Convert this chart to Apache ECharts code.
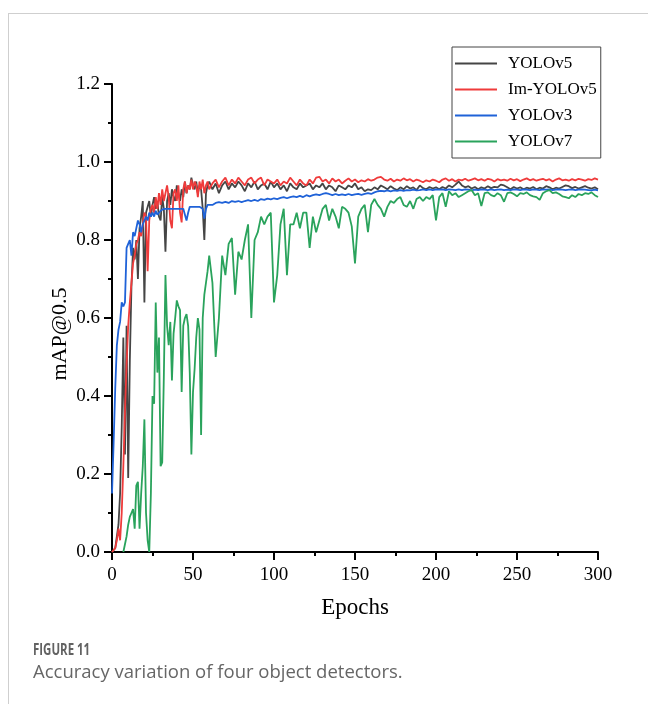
<!DOCTYPE html>
<html>
<head>
<meta charset="utf-8">
<script src="https://cdn.jsdelivr.net/npm/echarts@6/dist/echarts.min.js"></script>
<style>
html,body{margin:0;padding:0;background:#fff;width:648px;height:704px;overflow:hidden;}
#card{position:absolute;left:8px;top:13px;width:700px;height:720px;border-top:1px solid #cfcfcf;border-left:1px solid #cfcfcf;}
#chart{position:absolute;left:0;top:0;width:648px;height:704px;}
#cap1{position:absolute;left:33px;top:638px;font-family:"Open Sans",sans-serif;font-weight:700;font-size:15.5px;color:#626262;transform:scaleX(0.74);transform-origin:0 0;white-space:nowrap;}
#cap2{position:absolute;left:33px;top:658px;font-family:"Open Sans",sans-serif;font-size:18.5px;color:#666;white-space:nowrap;}
</style>
</head>
<body>
<div id="card"></div>
<div id="chart"></div>
<div id="cap1">FIGURE 11</div>
<div id="cap2">Accuracy variation of four object detectors.</div>
<script>
const seriesNames = ['YOLOv5', 'Im-YOLOv5', 'YOLOv3', 'YOLOv7'];
const xTicks = [0, 50, 100, 150, 200, 250, 300];
const yTicks = [0.0, 0.2, 0.4, 0.6, 0.8, 1.0, 1.2];

const epochs = [
  0,1,2,3,4,5,6,7,8,9,
  10,11,12,13,14,15,16,17,18,19,
  20,21,22,23,24,25,26,27,28,29,
  30,31,32,33,34,35,36,37,38,39,
  40,41,42,43,44,45,46,47,48,49,
  50,51,52,53,54,55,56,57,58,59,
  60,
  62,64,66,68,70,72,74,76,78,80,
  82,84,86,88,90,92,94,96,98,100,
  102,104,106,108,110,112,114,116,118,120,
  122,124,126,128,130,132,134,136,138,140,
  142,144,146,148,150,152,154,156,158,160,
  162,164,166,168,170,172,174,176,178,180,
  182,184,186,188,190,192,194,196,198,200,
  202,204,206,208,210,212,214,216,218,220,
  222,224,226,228,230,232,234,236,238,240,
  242,244,246,248,250,252,254,256,258,260,
  262,264,266,268,270,272,274,276,278,280,
  282,284,286,288,290,292,294,296,298,300
];

const yolov5 = [
  0, 0, 0.01, 0.04, 0.07, 0.15, 0.32, 0.55, 0.25, 0.58,
  0.19, 0.49, 0.68, 0.78, 0.75, 0.80, 0.70, 0.83, 0.86, 0.90,
  0.64, 0.87, 0.87, 0.90, 0.86, 0.89, 0.91, 0.88, 0.90, 0.86,
  0.85, 0.91, 0.88, 0.77, 0.90, 0.92, 0.89, 0.93, 0.91, 0.90,
  0.94, 0.92, 0.90, 0.93, 0.91, 0.95, 0.92, 0.94, 0.93, 0.96,
  0.94, 0.93, 0.95, 0.92, 0.94, 0.93, 0.88, 0.80, 0.92, 0.94,
  0.95,
  0.93, 0.945, 0.92, 0.94, 0.95, 0.93, 0.945, 0.935, 0.95, 0.94,
  0.925, 0.945, 0.935, 0.95, 0.93, 0.94, 0.945, 0.93, 0.95, 0.935,
  0.945, 0.93, 0.94, 0.925, 0.945, 0.935, 0.93, 0.945, 0.935, 0.94,
  0.945, 0.93, 0.94, 0.935, 0.945, 0.93, 0.94, 0.935, 0.925, 0.94,
  0.935, 0.93, 0.94, 0.935, 0.945, 0.93, 0.935, 0.925, 0.93, 0.928,
  0.935, 0.93, 0.94, 0.935, 0.93, 0.938, 0.932, 0.928, 0.935, 0.93,
  0.938, 0.932, 0.935, 0.928, 0.94, 0.933, 0.93, 0.936, 0.932, 0.935,
  0.93, 0.936, 0.932, 0.94, 0.935, 0.942, 0.95, 0.94, 0.935, 0.938,
  0.932, 0.936, 0.93, 0.935, 0.932, 0.938, 0.933, 0.936, 0.935, 0.942,
  0.94, 0.935, 0.93, 0.936, 0.932, 0.935, 0.93, 0.934, 0.932, 0.936,
  0.93, 0.934, 0.932, 0.938, 0.935, 0.93, 0.934, 0.932, 0.936, 0.94,
  0.938, 0.933, 0.936, 0.932, 0.935, 0.938, 0.934, 0.932, 0.935, 0.93
];

const imYolov5 = [
  0, 0, 0.01, 0.03, 0.06, 0.03, 0.10, 0.22, 0.36, 0.48,
  0.58, 0.64, 0.69, 0.74, 0.76, 0.79, 0.80, 0.82, 0.81, 0.84,
  0.87, 0.86, 0.72, 0.85, 0.88, 0.89, 0.87, 0.91, 0.88, 0.92,
  0.89, 0.93, 0.90, 0.92, 0.94, 0.91, 0.85, 0.83, 0.92, 0.93,
  0.90, 0.94, 0.87, 0.845, 0.93, 0.95, 0.92, 0.94, 0.93, 0.955,
  0.93, 0.95, 0.94, 0.91, 0.95, 0.93, 0.955, 0.92, 0.94, 0.95,
  0.93,
  0.945, 0.955, 0.935, 0.95, 0.96, 0.94, 0.955, 0.945, 0.96, 0.95,
  0.94, 0.955, 0.96, 0.945, 0.955, 0.96, 0.94, 0.955, 0.95, 0.945,
  0.955, 0.94, 0.95, 0.945, 0.96, 0.95, 0.94, 0.955, 0.945, 0.94,
  0.955, 0.945, 0.96, 0.962, 0.95, 0.955, 0.945, 0.958, 0.95, 0.955,
  0.945, 0.952, 0.958, 0.95, 0.955, 0.948, 0.953, 0.95, 0.956, 0.952,
  0.955, 0.96, 0.962, 0.955, 0.952, 0.957, 0.95, 0.955, 0.952, 0.958,
  0.953, 0.956, 0.95, 0.955, 0.952, 0.948, 0.953, 0.95, 0.955, 0.952,
  0.948, 0.955, 0.958, 0.952, 0.956, 0.95, 0.955, 0.953, 0.957, 0.952,
  0.955, 0.958, 0.953, 0.956, 0.952, 0.957, 0.955, 0.95, 0.956, 0.953,
  0.955, 0.952, 0.957, 0.953, 0.956, 0.951, 0.955, 0.958, 0.953, 0.956,
  0.952, 0.955, 0.957, 0.953, 0.956, 0.95, 0.955, 0.958, 0.953, 0.955,
  0.952, 0.956, 0.953, 0.957, 0.955, 0.952, 0.956, 0.954, 0.958, 0.955
];

const yolov3 = [
  0.15, 0.28, 0.42, 0.53, 0.57, 0.59, 0.64, 0.63, 0.64, 0.78,
  0.79, 0.80, 0.76, 0.82, 0.81, 0.81, 0.85, 0.84, 0.82, 0.84,
  0.85, 0.86, 0.85, 0.87, 0.86, 0.87, 0.86, 0.875, 0.865, 0.87,
  0.875, 0.87, 0.88, 0.875, 0.88, 0.885, 0.88, 0.885, 0.88, 0.885,
  0.88, 0.885, 0.88, 0.885, 0.88, 0.875, 0.85, 0.87, 0.885, 0.885,
  0.885, 0.89, 0.885, 0.89, 0.885, 0.89, 0.88, 0.855, 0.88, 0.89,
  0.89,
  0.89, 0.895, 0.897, 0.895, 0.898, 0.895, 0.90, 0.898, 0.90, 0.897,
  0.90, 0.902, 0.90, 0.903, 0.90, 0.905, 0.903, 0.906, 0.904, 0.907,
  0.905, 0.908, 0.91, 0.907, 0.91, 0.912, 0.91, 0.913, 0.91, 0.915,
  0.912, 0.915, 0.917, 0.915, 0.918, 0.92, 0.918, 0.915, 0.918, 0.915,
  0.917, 0.915, 0.918, 0.915, 0.917, 0.918, 0.916, 0.918, 0.92, 0.918,
  0.922, 0.925, 0.926, 0.925, 0.927, 0.925, 0.927, 0.926, 0.928, 0.926,
  0.928, 0.927, 0.929, 0.927, 0.928, 0.93, 0.928, 0.93, 0.928, 0.93,
  0.929, 0.93, 0.928, 0.93, 0.929, 0.928, 0.93, 0.928, 0.93, 0.929,
  0.927, 0.929, 0.928, 0.93, 0.929, 0.928, 0.93, 0.928, 0.929, 0.93,
  0.928, 0.929, 0.928, 0.93, 0.929, 0.928, 0.93, 0.929, 0.928, 0.93,
  0.929, 0.928, 0.93, 0.929, 0.93, 0.928, 0.929, 0.93, 0.929, 0.928,
  0.929, 0.93, 0.928, 0.929, 0.93, 0.929, 0.928, 0.927, 0.929, 0.927
];

const yolov7 = [
  null, null, null, null, null, null, null, 0.0, 0.02, 0.04,
  0.07, 0.09, 0.10, 0.11, 0.06, 0.17, 0.18, 0.06, 0.15, 0.22,
  0.34, 0.10, 0.03, 0.0, 0.15, 0.40, 0.38, 0.64, 0.46, 0.55,
  0.22, 0.23, 0.45, 0.71, 0.58, 0.53, 0.59, 0.44, 0.56, 0.60,
  0.645, 0.63, 0.62, 0.41, 0.58, 0.60, 0.61, 0.58, 0.46, 0.25,
  0.41, 0.47, 0.55, 0.60, 0.57, 0.30, 0.60, 0.66, 0.69, 0.72,
  0.76,
  0.69, 0.50, 0.60, 0.76, 0.71, 0.79, 0.805, 0.66, 0.77, 0.75,
  0.80, 0.84, 0.60, 0.80, 0.82, 0.86, 0.84, 0.86, 0.87, 0.64,
  0.71, 0.84, 0.88, 0.71, 0.84, 0.84, 0.87, 0.83, 0.87, 0.87,
  0.78, 0.86, 0.82, 0.85, 0.88, 0.89, 0.85, 0.88, 0.86, 0.83,
  0.885, 0.88, 0.87, 0.835, 0.74, 0.86, 0.88, 0.89, 0.82, 0.89,
  0.905, 0.89, 0.88, 0.86, 0.885, 0.90, 0.895, 0.905, 0.91, 0.89,
  0.885, 0.90, 0.88, 0.905, 0.91, 0.90, 0.91, 0.905, 0.915, 0.85,
  0.91, 0.92, 0.885, 0.925, 0.915, 0.92, 0.91, 0.915, 0.92, 0.925,
  0.928, 0.915, 0.92, 0.887, 0.92, 0.922, 0.915, 0.912, 0.92, 0.915,
  0.898, 0.92, 0.922, 0.918, 0.912, 0.92, 0.918, 0.922, 0.915, 0.912,
  0.91, 0.903, 0.92, 0.925, 0.928, 0.92, 0.922, 0.918, 0.912, 0.91,
  0.907, 0.915, 0.91, 0.918, 0.915, 0.92, 0.918, 0.922, 0.915, 0.91
];

const seriesValues = [yolov5, imYolov5, yolov3, yolov7];
const colors = ['#454545', '#ef3b3b', '#1f62d8', '#2aa35c'];
const FONT = '"Liberation Serif", "Times New Roman", serif';

const chart = echarts.init(document.getElementById('chart'), null, {renderer: 'canvas'});
const axisCommon = {
  axisLine: {show: true, onZero: false, lineStyle: {color: '#000', width: 2}},
  axisTick: {show: true, inside: false, length: 8, lineStyle: {color: '#000', width: 2}},
  minorTick: {show: true, splitNumber: 2, length: 4, lineStyle: {color: '#000', width: 2}},
  splitLine: {show: false},
  minorSplitLine: {show: false}
};
chart.setOption({
  backgroundColor: 'transparent',
  animation: false,
  grid: {left: 112, right: 50, top: 84, bottom: 152, containLabel: false, outerBoundsMode: 'none'},
  legend: {
    data: seriesNames,
    orient: 'vertical',
    left: 452, top: 47,
    icon: 'rect',
    itemWidth: 42, itemHeight: 2, itemGap: 9,
    padding: [8, 4, 8, 3],
    borderColor: '#444', borderWidth: 1, borderRadius: 0,
    textStyle: {fontFamily: FONT, fontSize: 17, color: '#000', padding: [0, 0, 0, 6]}
  },
  xAxis: Object.assign({}, axisCommon, {
    type: 'value', min: xTicks[0], max: xTicks[xTicks.length - 1], interval: xTicks[1] - xTicks[0],
    axisLabel: {fontFamily: FONT, fontSize: 19, color: '#000', margin: 14},
    name: 'Epochs', nameLocation: 'middle', nameGap: 44, nameMoveOverlap: false,
    nameTextStyle: {fontFamily: FONT, fontSize: 23, color: '#000'}
  }),
  yAxis: Object.assign({}, axisCommon, {
    type: 'value', min: yTicks[0], max: yTicks[yTicks.length - 1], interval: 0.2,
    axisLabel: {fontFamily: FONT, fontSize: 19, color: '#000', margin: 12, formatter: v => v.toFixed(1)},
    name: 'mAP@0.5', nameLocation: 'middle', nameGap: 41, nameRotate: 90, nameMoveOverlap: false,
    nameTextStyle: {fontFamily: FONT, fontSize: 22, color: '#000', padding: [0, 32, 0, 0]}
  }),
  series: seriesNames.map((name, k) => ({
    name: name,
    type: 'line',
    symbol: 'none',
    showSymbol: false,
    connectNulls: false,
    color: colors[k],
    lineStyle: {color: colors[k], width: 1.8},
    data: epochs.map((e, i) => [e, seriesValues[k][i]])
  }))
});
</script>
</body>
</html>
